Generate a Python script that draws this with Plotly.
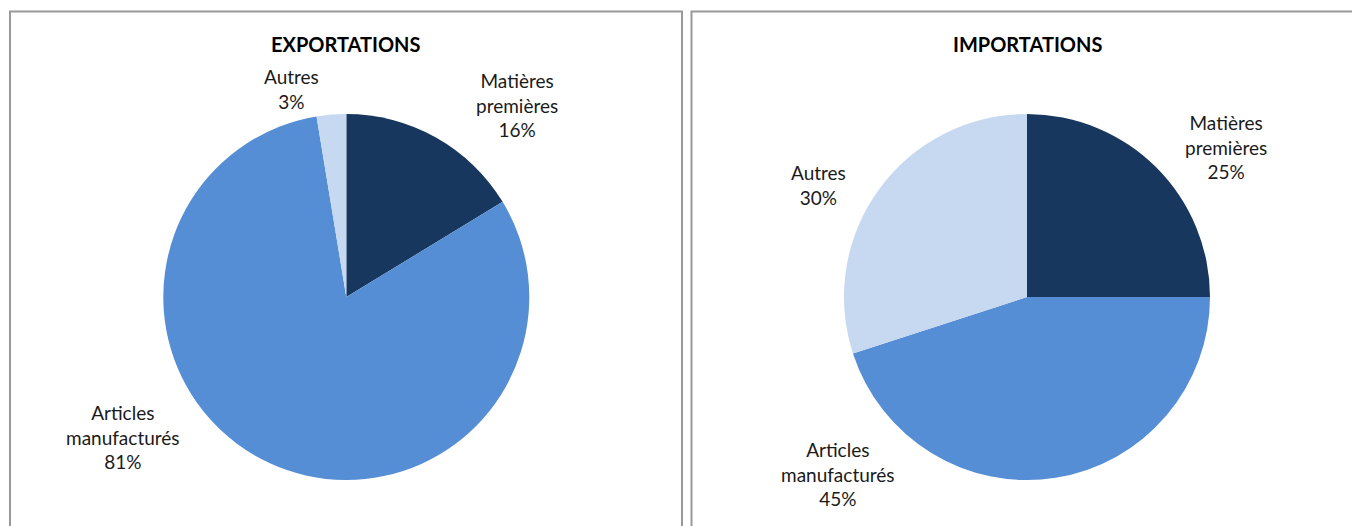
import plotly.graph_objects as go

# data
categories = ["Matières premières", "Articles manufacturés", "Autres"]
exports_share = [16.3, 81.1, 2.6]
imports_share = [25.0, 45.0, 30.0]
colors = ["#17375E", "#558ED5", "#C6D9F1"]

W, H = 1352, 526


def px(x):
    return x / W


def py(y):
    return 1 - y / H


fig = go.Figure()

# left pie: exports, right pie: imports
for vals, cx in [(exports_share, 346.3), (imports_share, 1027)]:
    r = 183
    fig.add_trace(go.Pie(
        labels=categories, values=vals, sort=False, direction="clockwise",
        rotation=0, textinfo="none", hoverinfo="label+percent",
        marker=dict(colors=colors, line=dict(width=0)),
        domain=dict(x=[px(cx - r), px(cx + r)], y=[py(297 + r), py(297 - r)]),
        showlegend=False,
    ))

label_font = dict(family="Lato, Carlito, Calibri, sans-serif", size=19, color="#1a1a1a")


def label_text(name, val):
    words = name.split(" ")
    return "<br>".join(words + [f"{round(val)}%"])


# label block centres (pixels) for each category
export_pos = [(517, 104.5), (123, 436.5), (291, 89.5)]
import_pos = [(1226, 147), (838, 474), (818, 185)]

annotations = []
for vals, pos in [(exports_share, export_pos), (imports_share, import_pos)]:
    for name, v, (x, y) in zip(categories, vals, pos):
        annotations.append(dict(
            x=px(x), y=py(y), xref="paper", yref="paper", text=label_text(name, v),
            showarrow=False, xanchor="center", yanchor="middle", font=label_font,
        ))

for title, x in [("EXPORTATIONS", 346.3), ("IMPORTATIONS", 1027)]:
    annotations.append(dict(
        x=px(x), y=py(44), xref="paper", yref="paper", text=f"<b>{title}</b>",
        showarrow=False, xanchor="center", yanchor="middle",
        font=dict(family="Lato, Carlito, Calibri, sans-serif", size=20, color="#000000"),
    ))

# panel frames
shapes = [
    dict(type="rect", xref="paper", yref="paper", x0=px(10), x1=px(682), y0=-0.1, y1=py(11.5),
         line=dict(color="#999999", width=2), fillcolor="rgba(0,0,0,0)"),
    dict(type="rect", xref="paper", yref="paper", x0=px(691.5), x1=1.1, y0=-0.1, y1=py(11.5),
         line=dict(color="#999999", width=2), fillcolor="rgba(0,0,0,0)"),
]

fig.update_layout(
    width=W, height=H,
    margin=dict(l=0, r=0, t=0, b=0),
    paper_bgcolor="white", plot_bgcolor="white",
    annotations=annotations, shapes=shapes,
)

# page has a default body margin; drop it so the figure sits at the window corner
fig.write_html(
    "out.html",
    config={"displayModeBar": False},
    post_script="document.body.style.margin='0';document.body.style.overflow='hidden';",
)
